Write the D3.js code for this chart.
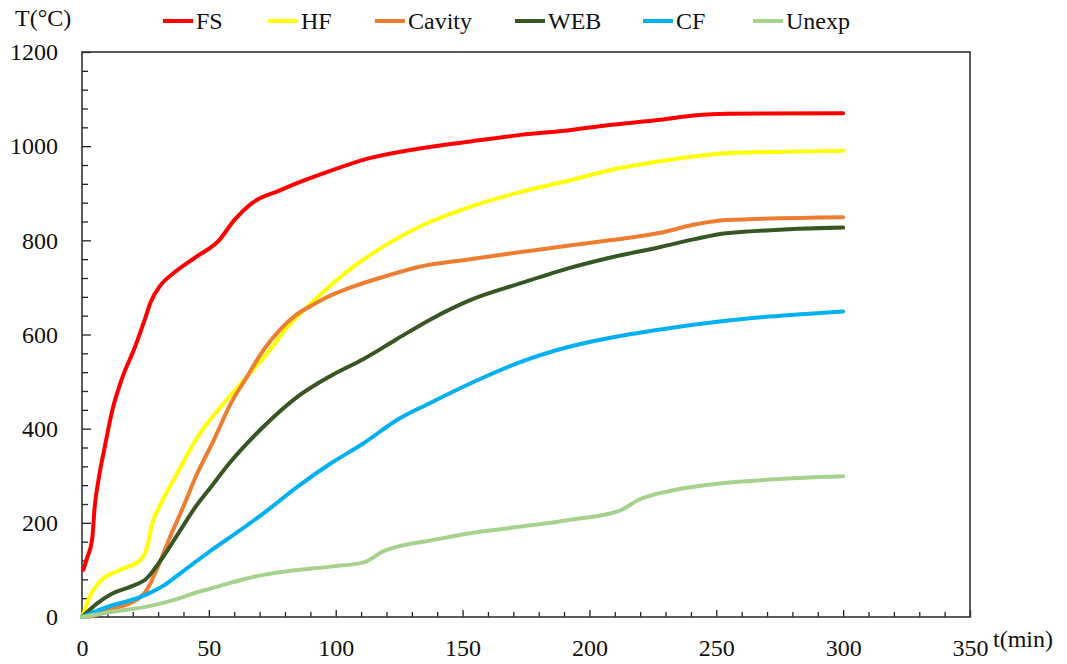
<!DOCTYPE html>
<html>
<head>
    <meta charset="utf-8">
    <title></title>
    <script src="https://d3js.org/d3.v7.min.js"></script>
<style>
body { margin: 0; background: #fff; }
svg text { font-family: "Liberation Serif", "Times New Roman", Times, "DejaVu Serif", serif; }
</style>
</head>
<body>
<div id="chart"></div>
<script>
// temperatures, one time/temperature pair of arrays per curve
const fsTime = [0.5, 2, 4, 5, 6.5, 9, 12, 16, 21, 23, 25, 27, 31, 36, 45, 54, 60, 67, 78, 86, 94, 113, 133, 153, 173, 192, 208, 228, 241, 254, 300];
const fsTemp = [100, 125, 165, 234, 291, 362, 440, 510, 575, 605, 636, 668, 705, 730, 765, 800, 843, 879, 906, 924, 940, 974, 995, 1010, 1024, 1034, 1045, 1056, 1065, 1069, 1070];

const hfTime = [0, 2, 3, 7, 15, 23, 25.5, 27.5, 31.5, 37, 46.5, 54, 62, 71.5, 82, 90, 106, 121, 133, 153, 173, 192, 208, 228, 241, 254, 300];
const hfTemp = [0, 29, 43, 75, 100, 121, 145, 195, 245, 300, 390, 442, 492, 550, 622, 665, 740, 794, 829, 871, 903, 927, 949, 968, 978, 985, 990];

const cavityTime = [0, 3, 12, 19, 25.5, 29.4, 34.7, 40, 45, 52, 58, 65, 71.5, 78, 84, 90, 95, 106, 121, 133, 153, 173, 192, 208, 228, 241, 254, 300];
const cavityTemp = [0, 1, 18, 29, 57, 100, 170, 235, 300, 376, 447, 510, 567, 610, 640, 660, 675, 700, 726, 744, 760, 775, 789, 800, 816, 833, 843, 849];

const webTime = [0, 6, 12, 19, 25.5, 32, 38.6, 45, 50.5, 58, 71.5, 85, 98, 111, 124, 137, 153, 173, 192, 208, 228, 241, 254, 300];
const webTemp = [0, 29, 50, 64, 82, 128, 183, 236, 274, 326, 404, 468, 512, 548, 590, 631, 673, 709, 741, 763, 786, 802, 815, 827];

const cfTime = [0, 12, 19, 25.5, 32, 38.6, 45, 50, 58, 71.5, 85, 98, 111, 124, 137, 153, 173, 192, 212, 232, 252, 271, 300];
const cfTemp = [0, 25, 35, 48, 66, 92, 118, 138, 168, 220, 277, 326, 369, 418, 454, 496, 542, 574, 597, 614, 628, 638, 649];

const unexpTime = [0, 12, 25.5, 32, 38.6, 45, 50.5, 58, 72, 78, 98, 111, 119, 124, 137, 153, 173, 192, 212, 219, 232, 252, 271, 300];
const unexpTemp = [0, 11, 22, 30, 40, 52, 60, 72, 90, 95, 107, 116, 140, 149, 162, 178, 192, 206, 226, 248, 268, 284, 292, 299];

const seriesNames = ['FS', 'HF', 'Cavity', 'WEB', 'CF', 'Unexp'];
const seriesTimes = [fsTime, hfTime, cavityTime, webTime, cfTime, unexpTime];
const seriesTemps = [fsTemp, hfTemp, cavityTemp, webTemp, cfTemp, unexpTemp];
const seriesColors = ['#ff0000', '#ffff00', '#ed7d31', '#375623', '#00b0f0', '#a9d18e'];

const xTicks = d3.range(0, 351, 10);
const yTicks = d3.range(0, 1201, 40);

const width = 1067, height = 664;
const plot = { left: 82, right: 970, top: 52, bottom: 617 };
const serif = '"Liberation Serif", "Times New Roman", Times, "DejaVu Serif", serif';

const svg = d3.select('#chart').append('svg')
    .attr('width', width)
    .attr('height', height);

const x = d3.scaleLinear().domain([0, 350]).range([plot.left, plot.right]);
const y = d3.scaleLinear().domain([0, 1200]).range([plot.bottom, plot.top]);

// axes with inward ticks, labels only on the major ones
const xAxis = svg.append('g')
    .attr('transform', `translate(0,${plot.bottom})`)
    .call(d3.axisBottom(x)
        .tickValues(xTicks)
        .tickSizeInner(-5)
        .tickSizeOuter(0)
        .tickPadding(22)
        .tickFormat(d => d % 50 === 0 ? d : ''));

const yAxis = svg.append('g')
    .attr('transform', `translate(${plot.left},0)`)
    .call(d3.axisLeft(y)
        .tickValues(yTicks)
        .tickSizeInner(-6)
        .tickSizeOuter(0)
        .tickPadding(24)
        .tickFormat(d => d % 200 === 0 ? d : ''));

xAxis.selectAll('.tick line').filter(d => d % 50 === 0).attr('y2', -7);
yAxis.selectAll('.tick line').filter(d => d % 200 === 0).attr('x2', 9);

[xAxis, yAxis].forEach(g => {
    g.attr('font-family', serif).attr('font-size', 24);
    g.select('.domain').remove();
    g.selectAll('.tick line').attr('stroke', '#222').attr('stroke-width', 1.3);
    g.selectAll('.tick text').attr('fill', '#111');
});

svg.append('rect')
    .attr('x', plot.left)
    .attr('y', plot.top)
    .attr('width', plot.right - plot.left)
    .attr('height', plot.bottom - plot.top)
    .attr('fill', 'none')
    .attr('stroke', '#333')
    .attr('stroke-width', 1.6);

const line = d3.line()
    .x(d => x(d[0]))
    .y(d => y(d[1]))
    .curve(d3.curveMonotoneX);

seriesNames.forEach((name, i) => {
    const pts = seriesTimes[i].map((t, j) => [t, seriesTemps[i][j]]);
    svg.append('path')
        .datum(pts)
        .attr('fill', 'none')
        .attr('stroke', seriesColors[i])
        .attr('stroke-width', 4)
        .attr('stroke-linecap', 'round')
        .attr('stroke-linejoin', 'round')
        .attr('d', line);
});

// legend along the top
const legendX = [163, 268, 375, 515, 643, 753];
const legend = svg.append('g').attr('font-family', serif).attr('font-size', 24);
seriesNames.forEach((name, i) => {
    legend.append('line')
        .attr('x1', legendX[i]).attr('x2', legendX[i] + 30)
        .attr('y1', 21).attr('y2', 21)
        .attr('stroke', seriesColors[i])
        .attr('stroke-width', 4);
    legend.append('text')
        .attr('x', legendX[i] + 33)
        .attr('y', 29)
        .attr('fill', '#111')
        .text(name);
});

svg.append('text')
    .attr('x', 15).attr('y', 26)
    .attr('fill', '#111')
    .attr('font-family', serif)
    .attr('font-size', 24)
    .text('T(°C)');

svg.append('text')
    .attr('x', 993).attr('y', 647)
    .attr('fill', '#111')
    .attr('font-family', serif)
    .attr('font-size', 24)
    .text('t(min)');
</script>
</body>
</html>
